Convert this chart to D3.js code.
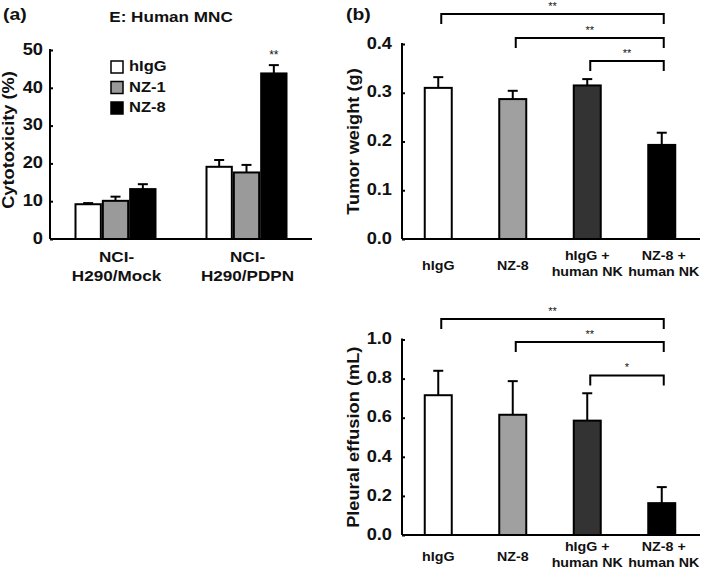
<!DOCTYPE html>
<html><head><meta charset="utf-8">
<script src="https://cdn.jsdelivr.net/npm/d3@7"></script>
<style>
body{margin:0;background:#fff;}
svg text{font-family:"Liberation Sans",Arial,sans-serif;font-weight:bold;fill:#111;}
</style></head>
<body><svg id="c" width="709" height="570"></svg>
<script>
// ---- data ----
const groupsA = ["NCI-\nH290/Mock", "NCI-\nH290/PDPN"];
const seriesA = ["hIgG", "NZ-1", "NZ-8"];
const meanA = [[9.2, 10.1, 13.2], [19.1, 17.6, 43.8]];
const errA = [[0.3, 1.1, 1.3], [1.8, 2.0, 2.2]];
const ticksA = [0, 10, 20, 30, 40, 50];
const coloursA = ["#ffffff", "#9a9a9a", "#000000"];

const catsB = ["hIgG", "NZ-8", "hIgG +\nhuman NK", "NZ-8 +\nhuman NK"];
const coloursB = ["#ffffff", "#a0a0a0", "#333333", "#000000"];
const tumorMean = [0.310, 0.287, 0.315, 0.193];
const tumorErr = [0.022, 0.017, 0.013, 0.025];
const tumorTicks = [0, 0.1, 0.2, 0.3, 0.4];
const pleuralMean = [0.715, 0.615, 0.585, 0.163];
const pleuralErr = [0.125, 0.172, 0.140, 0.082];
const pleuralTicks = [0, 0.2, 0.4, 0.6, 0.8, 1.0];
const tumorSig = [["hIgG", "**"], ["NZ-8", "**"], ["hIgG +\nhuman NK", "**"]];
const pleuralSig = [["hIgG", "**"], ["NZ-8", "**"], ["hIgG +\nhuman NK", "*"]];

const SX = 1.14; // horizontal stretch of the reference lettering
const svg = d3.select("#c");

function stext(parent, x, y, str, size, anchor, rot, lhf) {
  const t = parent.append("text")
    .attr("transform", `translate(${x},${y})${rot ? " rotate(" + rot + ")" : ""} scale(${SX},1)`)
    .attr("text-anchor", anchor || "start").attr("dominant-baseline", "middle")
    .style("font-size", size + "px");
  const lines = str.split("\n");
  if (lines.length === 1) { t.text(str); return t; }
  const lh = size * (lhf || 1.15);
  const off = -(lines.length - 1) * lh / 2;
  lines.forEach((l, i) => t.append("tspan").attr("x", 0).attr("dy", i === 0 ? off : lh).text(l));
  return t;
}

function yAxis(g, y, ticks, fmt, x0, pad) {
  const ax = g.append("g").attr("transform", `translate(${x0},0)`)
    .call(d3.axisLeft(y).tickValues(ticks).tickFormat(fmt).tickSize(-3).tickPadding(pad));
  ax.select(".domain").attr("stroke", "#000").attr("stroke-width", 2).attr("d", `M0,${y.range()[1] - 1}V${y.range()[0]}`);
  ax.selectAll(".tick line").attr("stroke", "#000").attr("stroke-width", 2);
  ax.selectAll(".tick text").style("font-size", "16px").attr("fill", "#111")
    .attr("x", 0).attr("dy", null).attr("dominant-baseline", "middle")
    .attr("transform", `translate(${-pad},0) scale(${SX},1)`);
  return ax;
}

// ---------- Panel (a) ----------
{
  const g = svg.append("g");
  const y = d3.scaleLinear().domain([0, 50]).range([239, 50]);
  const x0 = d3.scaleBand().domain(groupsA).range([50, 312]);
  const gw = 82;
  const x1 = d3.scaleBand().domain(seriesA).range([(x0.bandwidth() - gw) / 2, (x0.bandwidth() + gw) / 2]).padding(0);
  yAxis(g, y, ticksA, d3.format("d"), 50, 7);
  g.append("line").attr("x1", 50).attr("x2", 312).attr("y1", y(0)).attr("y2", y(0)).attr("stroke", "#000").attr("stroke-width", 2);

  groupsA.forEach((gr, gi) => {
    seriesA.forEach((s, si) => {
      const xb = x0(gr) + x1(s);
      const cx = xb + x1.bandwidth() / 2;
      const v = meanA[gi][si], e = errA[gi][si];
      g.append("line").attr("x1", cx).attr("x2", cx).attr("y1", y(v)).attr("y2", y(v + e)).attr("stroke", "#000").attr("stroke-width", 2);
      g.append("line").attr("x1", cx - 5).attr("x2", cx + 5).attr("y1", y(v + e)).attr("y2", y(v + e)).attr("stroke", "#000").attr("stroke-width", 2);
      g.append("rect").attr("x", xb + 1).attr("y", y(v)).attr("width", x1.bandwidth() - 2).attr("height", y(0) - y(v))
        .attr("fill", coloursA[si]).attr("stroke", "#000").attr("stroke-width", 2);
    });
    stext(g, x0(gr) + x0.bandwidth() / 2 + 1, 268, gr, 15, "middle", null, 1.25);
  });
  // significance
  g.append("text").attr("x", x0(groupsA[1]) + x1("NZ-8") + x1.bandwidth() / 2).attr("y", y(meanA[1][2] + errA[1][2]) - 9)
    .attr("text-anchor", "middle").attr("dominant-baseline", "middle").style("font-size", "12px").style("font-weight", "normal").attr("fill", "#777").text("**");
  // legend
  const lg = g.append("g").attr("transform", "translate(111,61)");
  seriesA.forEach((s, i) => {
    lg.append("rect").attr("x", 0).attr("y", i * 20.5).attr("width", 12).attr("height", 12)
      .attr("fill", coloursA[i]).attr("stroke", "#000").attr("stroke-width", 1.5);
    stext(lg, 18, i * 20.5 + 6.5, s, 14.5, "start");
  });
  stext(g, 171, 18, "E: Human MNC", 15, "middle");
  stext(g, 3, 16, "(a)", 17, "start");
  stext(g, 10, 140, "Cytotoxicity (%)", 16, "middle", -90);
}

// ---------- Panel (b) ----------
function panelB(mean, err, ticks, yTop, yBot, dmax, label, sig, sigY, labelY) {
  const g = svg.append("g");
  const y = d3.scaleLinear().domain([0, dmax]).range([yBot, yTop]);
  const x = d3.scaleBand().domain(catsB).range([401, 699]);
  const bw = 27;
  yAxis(g, y, ticks, d3.format(".1f"), 402, 10);
  g.append("line").attr("x1", 402).attr("x2", 700).attr("y1", y(0)).attr("y2", y(0)).attr("stroke", "#000").attr("stroke-width", 2);
  catsB.forEach((c, i) => {
    const cx = x(c) + x.bandwidth() / 2;
    const v = mean[i], e = err[i];
    g.append("line").attr("x1", cx).attr("x2", cx).attr("y1", y(v)).attr("y2", y(v + e)).attr("stroke", "#000").attr("stroke-width", 2);
    g.append("line").attr("x1", cx - 5).attr("x2", cx + 5).attr("y1", y(v + e)).attr("y2", y(v + e)).attr("stroke", "#000").attr("stroke-width", 2);
    g.append("rect").attr("x", cx - bw / 2).attr("y", y(v)).attr("width", bw).attr("height", y(0) - y(v))
      .attr("fill", coloursB[i]).attr("stroke", "#000").attr("stroke-width", 2);
    stext(g, cx + (i === 3 ? 2 : 0), c.includes("\n") ? labelY : labelY + 3, c, 12.5, "middle", null, 1.3);
  });
  const xr = x(catsB[3]) + x.bandwidth() / 2 + 2;
  sig.forEach(([from, star], i) => {
    const xl = x(from) + x.bandwidth() / 2 + 3;
    const by = sigY[i];
    g.append("path").attr("d", `M${xl},${by + 10}V${by}H${xr}V${by + 10}`).attr("fill", "none").attr("stroke", "#000").attr("stroke-width", 2);
    g.append("text").attr("x", (xl + xr) / 2).attr("y", by - 7).attr("text-anchor", "middle").attr("dominant-baseline", "middle")
      .style("font-size", "11px").style("font-weight", "normal").attr("fill", "#777").text(star);
  });
  stext(g, 355, (yTop + yBot) / 2, label, 16, "middle", -90);
  return g;
}
panelB(tumorMean, tumorErr, tumorTicks, 44, 239, 0.4, "Tumor weight (g)", tumorSig, [14, 38, 61], 264);
panelB(pleuralMean, pleuralErr, pleuralTicks, 339.5, 535, 1.0, "Pleural effusion (mL)", pleuralSig, [319, 342, 375.5], 555);
stext(svg, 346, 16, "(b)", 17, "start");
</script></body></html>
